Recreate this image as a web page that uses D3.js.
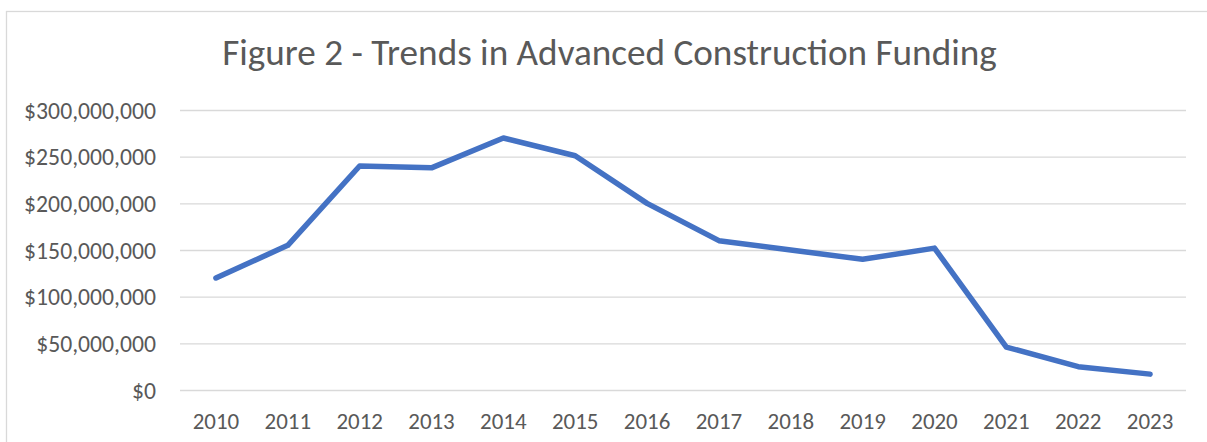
<!DOCTYPE html>
<html>
<head>
<meta charset="utf-8">
<script src="https://cdn.jsdelivr.net/npm/d3@7"></script>
<style>
  body { margin: 0; background: #fff; }
  svg { display: block; }
  text { font-family: Calibri, Carlito, Lato, sans-serif; fill: #595959; }
</style>
</head>
<body>
<script>
// data
var years = ["2010", "2011", "2012", "2013", "2014", "2015", "2016",
             "2017", "2018", "2019", "2020", "2021", "2022", "2023"];
var funding = [120e6, 155e6, 240e6, 238e6, 270e6, 251e6, 200e6,
               160e6, 150e6, 140e6, 152e6, 46e6, 25e6, 17e6];
var yTicks = [0, 50e6, 100e6, 150e6, 200e6, 250e6, 300e6];
var title = "Figure 2 - Trends in Advanced Construction Funding";

var width = 1207, height = 442;
var margin = { left: 180, right: 21, top: 110, bottom: 52 };

var svg = d3.select("body").append("svg")
  .attr("width", width).attr("height", height);

// chart area border (runs off the right and bottom edge)
svg.append("rect")
  .attr("x", 6.5).attr("y", 11.5)
  .attr("width", 1220).attr("height", 450)
  .attr("fill", "#fff").attr("stroke", "#d9d9d9").attr("stroke-width", 1.3);

var x = d3.scaleBand().domain(years)
  .range([margin.left, width - margin.right]);
var y = d3.scaleLinear().domain([0, 300e6])
  .range([height - margin.bottom, margin.top]);

// shrink / grow a text so it spans a given width
function fitFont(sel, target) {
  var size = 20;
  sel.style("font-size", size + "px");
  var w = d3.max(sel.nodes(), function (n) { return n.getComputedTextLength(); });
  sel.style("font-size", (size * target / w) + "px");
}

var fmt = function (d) { return "$" + d3.format(",")(d); };

// gridlines + y labels
var yAxis = svg.append("g")
  .attr("transform", "translate(" + margin.left + ",0)")
  .call(d3.axisLeft(y).tickValues(yTicks).tickFormat(fmt)
    .tickSize(-(width - margin.left - margin.right)).tickPadding(24));
yAxis.select(".domain").remove();
yAxis.selectAll(".tick line").attr("stroke", "#d9d9d9").attr("stroke-width", 1.4);
var yLabels = yAxis.selectAll(".tick text").attr("dy", "0.35em");
fitFont(yLabels, 132);

// x labels
var xAxis = svg.append("g")
  .attr("transform", "translate(0," + (height - margin.bottom) + ")")
  .call(d3.axisBottom(x).tickSize(0).tickPadding(23));
xAxis.select(".domain").remove();
var xLabels = xAxis.selectAll(".tick text").attr("dy", "0.71em");
fitFont(xLabels, 46.5);

// line
var line = d3.line()
  .x(function (d, i) { return x(years[i]) + x.bandwidth() / 2; })
  .y(function (d) { return y(d); });

svg.append("path")
  .datum(funding)
  .attr("d", line)
  .attr("fill", "none")
  .attr("stroke", "#4472c4")
  .attr("stroke-width", 5.5)
  .attr("stroke-linejoin", "round")
  .attr("stroke-linecap", "round");

// title
var t = svg.append("text")
  .attr("x", 609.5).attr("y", 65)
  .attr("text-anchor", "middle")
  .text(title);
fitFont(t, 775);
</script>
</body>
</html>
